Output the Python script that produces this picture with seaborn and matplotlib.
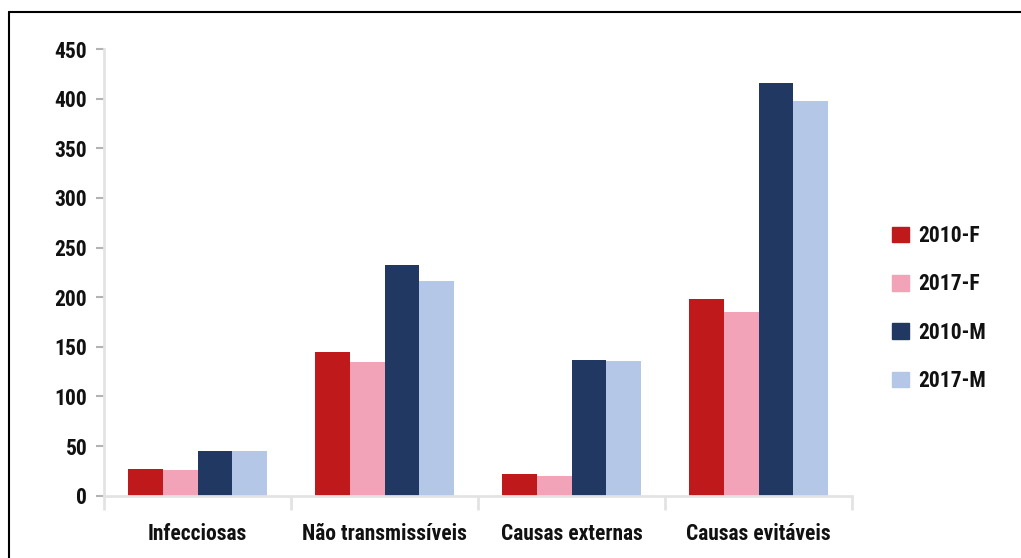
import matplotlib
matplotlib.use("Agg")
import matplotlib.pyplot as plt
import matplotlib.patches as mpatches
from matplotlib.lines import Line2D
import seaborn as sns
import pandas as pd

categories = ["Infecciosas", "Não transmissíveis", "Causas externas", "Causas evitáveis"]
series = ["2010-F", "2017-F", "2010-M", "2017-M"]
values_2010_f = [27, 145, 22, 198]
values_2017_f = [26, 135, 20, 185]
values_2010_m = [45, 232, 137, 416]
values_2017_m = [45, 216, 136, 398]
colors = ["#C0191B", "#F2A3B8", "#213863", "#B4C7E7"]
y_ticks = [0, 50, 100, 150, 200, 250, 300, 350, 400, 450]

df = pd.DataFrame({
    "categoria": categories * 4,
    "serie": [s for s in series for _ in categories],
    "valor": values_2010_f + values_2017_f + values_2010_m + values_2017_m,
})

sns.set_theme(style="white")
plt.rcParams["font.family"] = ["Roboto Condensed", "DejaVu Sans"]
plt.rcParams["font.stretch"] = "condensed"
plt.rcParams["font.weight"] = "bold"

W, H = 1021, 558
fig = plt.figure(figsize=(W / 100, H / 100), dpi=100)
ax = fig.add_axes([104 / W, 1 - 495.7 / H, (852 - 104) / W, (495.7 - 49) / H])

sns.barplot(data=df, x="categoria", y="valor", hue="serie", order=categories,
            hue_order=series, palette=colors, width=0.74, gap=0,
            saturation=1, linewidth=0, ax=ax, legend=False)

ax.set_xlim(-0.5, 3.5)
ax.set_ylim(0, 450)
ax.set_yticks(y_ticks)
ax.set_xlabel("")
ax.set_ylabel("")

for side in ["top", "right"]:
    ax.spines[side].set_visible(False)
for side in ["left", "bottom"]:
    ax.spines[side].set_color("#e3e3e3")
    ax.spines[side].set_linewidth(2)

ax.tick_params(axis="y", which="major", length=6, width=1.5, color="#b3b3b3",
               left=True, direction="out", pad=6, labelsize=15.5, labelcolor="#111111")
ax.tick_params(axis="x", which="major", length=0, pad=20, labelsize=15.5, labelcolor="#111111")
ax.set_xticks([-0.5, 0.5, 1.5, 2.5, 3.5], minor=True)
ax.tick_params(axis="x", which="minor", length=10, width=2, color="#e3e3e3",
               bottom=True, direction="out")

handles = [mpatches.Patch(color=c, label=s) for c, s in zip(colors, series)]
fig.legend(handles=handles, loc="center left", bbox_to_anchor=(873 / W, 1 - 308.5 / H),
           frameon=False, fontsize=15.5, handlelength=0.75, handleheight=0.75,
           handletextpad=0.45, labelspacing=1.22, labelcolor="#111111")

# frame lines along the left and top edges of the figure
fig.add_artist(Line2D([8.5 / W, 8.5 / W], [0, 1 - 11.5 / H], transform=fig.transFigure,
                      color="black", linewidth=1.5))
fig.add_artist(Line2D([8.5 / W, 1], [1 - 11.5 / H, 1 - 11.5 / H], transform=fig.transFigure,
                      color="black", linewidth=1.5))

fig.savefig("out.png", dpi=100)
